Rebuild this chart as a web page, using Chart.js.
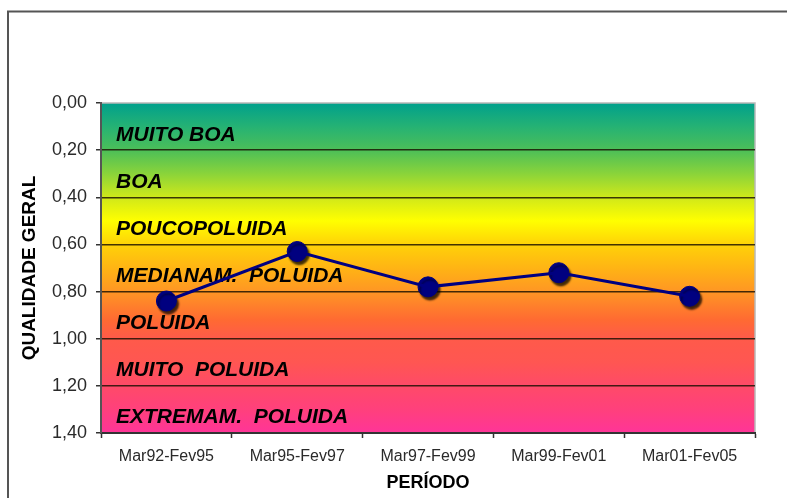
<!DOCTYPE html>
<html>
<head>
<meta charset="utf-8">
<script src="https://cdn.jsdelivr.net/npm/chart.js@4/dist/chart.umd.min.js"></script>
<style>
  html, body { margin: 0; padding: 0; background: #ffffff; }
  #wrap { width: 787px; height: 498px; position: relative; }
</style>
</head>
<body>
<div id="wrap"><canvas id="chart" width="787" height="498"></canvas></div>
<script>
// Periods and the general water-quality index for each one
const categories = ['Mar92-Fev95', 'Mar95-Fev97', 'Mar97-Fev99', 'Mar99-Fev01', 'Mar01-Fev05'];
const qualityValues = [0.84, 0.63, 0.78, 0.72, 0.82];

// Axis tick labels (0.00 to 1.40 by 0.20)
const yTickValues = [0, 0.2, 0.4, 0.6, 0.8, 1.0, 1.2, 1.4];
const yTickLabels = ['0,00', '0,20', '0,40', '0,60', '0,80', '1,00', '1,20', '1,40'];

// Quality classes: each band runs between two consecutive edges
const bandEdges = [0, 0.2, 0.4, 0.6, 0.8, 1.0, 1.2, 1.4];
const bandLabels = ['MUITO BOA', 'BOA', 'POUCOPOLUIDA', 'MEDIANAM.  POLUIDA', 'POLUIDA', 'MUITO  POLUIDA', 'EXTREMAM.  POLUIDA'];

const FONT = '"Liberation Sans", Arial, sans-serif';

// Outer frame plus the colour ramp behind the plot
const backgroundPlugin = {
  id: 'qualityBackground',
  beforeDraw(chart) {
    const { ctx, chartArea: a, scales: { y } } = chart;
    ctx.save();
    // outer frame
    ctx.strokeStyle = '#555555';
    ctx.lineWidth = 2;
    ctx.strokeRect(8, 11.5, 820, 520);

    const top = y.getPixelForValue(0);
    const bot = y.getPixelForValue(1.4);
    const g = ctx.createLinearGradient(0, top, 0, bot);
    const stop = (v, c) => g.addColorStop(v / 1.4, c);
    stop(0.00, '#00a08c');
    stop(0.10, '#25b274');
    stop(0.20, '#4cbf58');
    stop(0.30, '#8ad43a');
    stop(0.40, '#cfe81a');
    stop(0.50, '#ffff00');
    stop(0.60, '#ffd208');
    stop(0.70, '#ffb414');
    stop(0.80, '#ff9624');
    stop(0.92, '#ff6a32');
    stop(1.00, '#ff5a4a');
    stop(1.10, '#ff5652');
    stop(1.20, '#ff4a68');
    stop(1.30, '#ff407c');
    stop(1.40, '#ff3498');
    ctx.fillStyle = g;
    ctx.fillRect(a.left, top, a.right - a.left, bot - top);

    // light frame on top and right of the plot
    ctx.strokeStyle = '#b8b8b8';
    ctx.lineWidth = 1.5;
    ctx.strokeRect(a.left, top, a.right - a.left, bot - top);
    ctx.restore();
  },
  beforeDatasetsDraw(chart) {
    const { ctx, chartArea: a, scales: { y } } = chart;
    ctx.save();
    ctx.font = 'italic bold 21px ' + FONT;
    ctx.fillStyle = '#000000';
    ctx.textAlign = 'left';
    ctx.textBaseline = 'alphabetic';
    for (let i = 0; i < bandLabels.length; i++) {
      const mid = (y.getPixelForValue(bandEdges[i]) + y.getPixelForValue(bandEdges[i + 1])) / 2;
      ctx.fillText(bandLabels[i], a.left + 15, mid + 14);
    }
    ctx.restore();
  }
};

// Drop shadow under the markers only
const shadowPlugin = {
  id: 'markerShadow',
  beforeDatasetDraw(chart, args) {
    if (args.index !== 1) return;
    const ctx = chart.ctx;
    ctx.save();
    ctx.shadowColor = 'rgba(0,0,0,0.75)';
    ctx.shadowOffsetX = 2;
    ctx.shadowOffsetY = 3;
    ctx.shadowBlur = 2;
  },
  afterDatasetDraw(chart, args) {
    if (args.index !== 1) return;
    chart.ctx.restore();
  }
};

new Chart(document.getElementById('chart'), {
  type: 'line',
  data: {
    labels: categories,
    datasets: [
      {
        data: qualityValues,
        borderColor: '#000080',
        borderWidth: 3,
        pointRadius: 0,
        pointHoverRadius: 0,
        tension: 0,
        fill: false
      },
      {
        data: qualityValues,
        showLine: false,
        pointRadius: 10,
        pointHoverRadius: 10,
        pointBackgroundColor: '#000080',
        pointBorderColor: '#000080',
        pointBorderWidth: 1
      }
    ]
  },
  options: {
    responsive: false,
    animation: false,
    events: [],
    layout: { padding: { top: 103, right: 32, left: 0, bottom: 0 } },
    plugins: {
      legend: { display: false },
      tooltip: { enabled: false },
      title: { display: false }
    },
    scales: {
      x: {
        type: 'category',
        offset: true,
        grid: {
          display: true,
          offset: true,
          drawOnChartArea: false,
          drawTicks: true,
          tickLength: 5,
          tickColor: '#333333',
          tickWidth: 1.5
        },
        border: { display: true, color: '#333333', width: 2 },
        ticks: {
          color: '#2a2a2a',
          font: { family: FONT, size: 16 },
          padding: 9,
          maxRotation: 0,
          autoSkip: false
        },
        title: {
          display: true,
          text: 'PERÍODO',
          color: '#000000',
          font: { family: FONT, size: 18, weight: 'bold' },
          padding: { top: 0, bottom: 4 }
        },
        afterFit(scale) { scale.height = 65; }
      },
      y: {
        type: 'linear',
        reverse: true,
        min: 0,
        max: 1.4,
        afterBuildTicks(scale) {
          scale.ticks = yTickValues.map(v => ({ value: v }));
        },
        grid: {
          display: true,
          drawTicks: true,
          tickLength: 5,
          tickColor: '#333333',
          tickWidth: 1.5,
          lineWidth: 1.5,
          color(ctx) {
            const v = ctx.tick ? ctx.tick.value : null;
            return v === 0 ? 'rgba(0,0,0,0)' : 'rgba(25,15,0,0.82)';
          }
        },
        border: { display: true, color: '#555555', width: 2 },
        ticks: {
          color: '#2a2a2a',
          font: { family: FONT, size: 18 },
          padding: 9,
          callback(value, index) { return yTickLabels[index]; }
        },
        title: {
          display: true,
          text: 'QUALIDADE GERAL',
          color: '#000000',
          font: { family: FONT, size: 19, weight: 'bold' },
          padding: { top: 18, bottom: 0 }
        },
        afterFit(scale) { scale.width = 101; }
      }
    }
  },
  plugins: [backgroundPlugin, shadowPlugin]
});
</script>
</body>
</html>
